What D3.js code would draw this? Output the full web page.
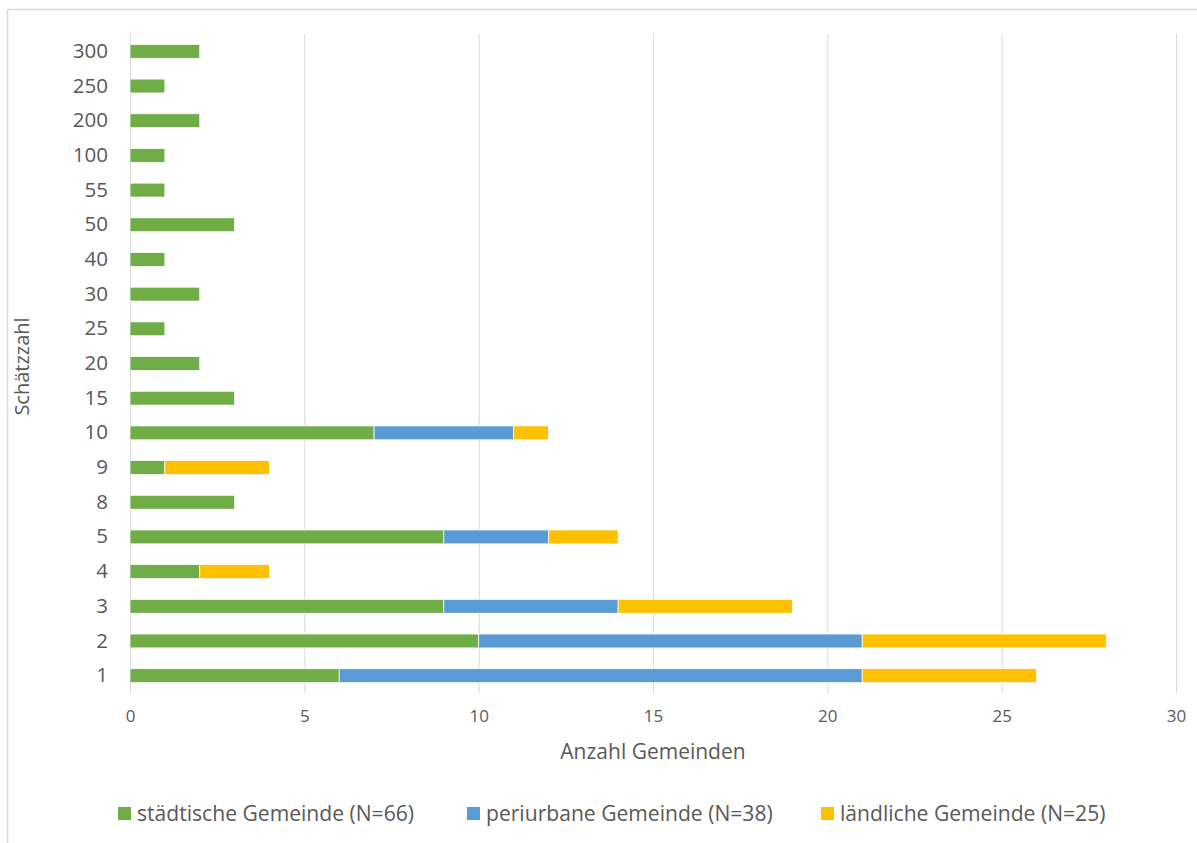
<!DOCTYPE html>
<html><head><meta charset="utf-8">
<script src="https://cdn.jsdelivr.net/npm/d3@7"></script>
<style>
body{margin:0;background:#fff;}
svg text{font-family:"Open Sans",Lato,sans-serif;fill:#595959;}
</style></head>
<body><svg id="c" width="1197" height="843"></svg>
<script>
const categories = ["1","2","3","4","5","8","9","10","15","20","25","30","40","50","55","100","200","250","300"];
const staedtisch = [6,10,9,2,9,3,1,7,3,2,1,2,1,3,1,1,2,1,2];
const periurban  = [15,11,5,0,3,0,0,4,0,0,0,0,0,0,0,0,0,0,0];
const laendlich  = [5,7,5,2,2,0,3,1,0,0,0,0,0,0,0,0,0,0,0];
const seriesNames = ["städtische Gemeinde (N=66)","periurbane Gemeinde (N=38)","ländliche Gemeinde (N=25)"];
const colors = ["#70AD47","#5B9BD5","#FFC000"];
const xTicks = [0,5,10,15,20,25,30];

const svg = d3.select("#c");
svg.append("rect").attr("x",7.5).attr("y",9.5).attr("width",1300).attr("height",900)
  .attr("fill","none").attr("stroke","#D9D9D9").attr("stroke-width",1.5);

const pL=130, pR=1176, pT=34, pB=693;
const x = d3.scaleLinear().domain([0,30]).range([pL,pR]);
const y = d3.scaleBand().domain(categories.slice().reverse()).range([pT,pB]).paddingInner(0.6).paddingOuter(0.3);

svg.append("g").selectAll("line").data(xTicks).join("line")
  .attr("x1",d=>x(d)+0.5).attr("x2",d=>x(d)+0.5).attr("y1",pT).attr("y2",pB)
  .attr("stroke","#D9D9D9").attr("stroke-width",1);

const rows = categories.map((c,i)=>({cat:c,s0:staedtisch[i],s1:periurban[i],s2:laendlich[i]}));
const stack = d3.stack().keys(["s0","s1","s2"])(rows);
svg.append("g").selectAll("g").data(stack).join("g").attr("fill",(d,i)=>colors[i])
  .selectAll("rect").data(d=>d.filter(p=>p[1]-p[0]>0)).join("rect")
  .attr("x",d=>x(d[0])).attr("width",d=>x(d[1])-x(d[0]))
  .attr("y",d=>y(d.data.cat)).attr("height",y.bandwidth())
  .attr("stroke","#fff").attr("stroke-width",0.75);

const xa = svg.append("g").attr("transform",`translate(0,${pB})`)
  .call(d3.axisBottom(x).tickValues(xTicks).tickSize(0).tickPadding(17));
xa.select(".domain").remove();
xa.selectAll("text").attr("font-size","17px").style("font-family",'"Open Sans",sans-serif').style("fill","#595959");

const ya = svg.append("g").attr("transform",`translate(${pL},0)`)
  .call(d3.axisLeft(y).tickSize(0).tickPadding(22));
ya.select(".domain").remove();
ya.selectAll("text").attr("font-size","20.5px").style("font-family",'"Open Sans",sans-serif').style("fill","#595959");

svg.append("text").attr("x",(pL+pR)/2).attr("y",759).attr("text-anchor","middle")
  .attr("font-size","21px").text("Anzahl Gemeinden");
svg.append("text").attr("transform",`translate(29,${(pT+pB)/2+3}) rotate(-90)`)
  .attr("text-anchor","middle").attr("font-size","20px").text("Schätzzahl");

const legX = [118,467,821];
const lg = svg.append("g");
seriesNames.forEach((n,i)=>{
  lg.append("rect").attr("x",legX[i]).attr("y",807).attr("width",13).attr("height",13).attr("fill",colors[i]);
  lg.append("text").attr("x",legX[i]+19).attr("y",821).attr("font-size","21.1px").text(n);
});
</script></body></html>
